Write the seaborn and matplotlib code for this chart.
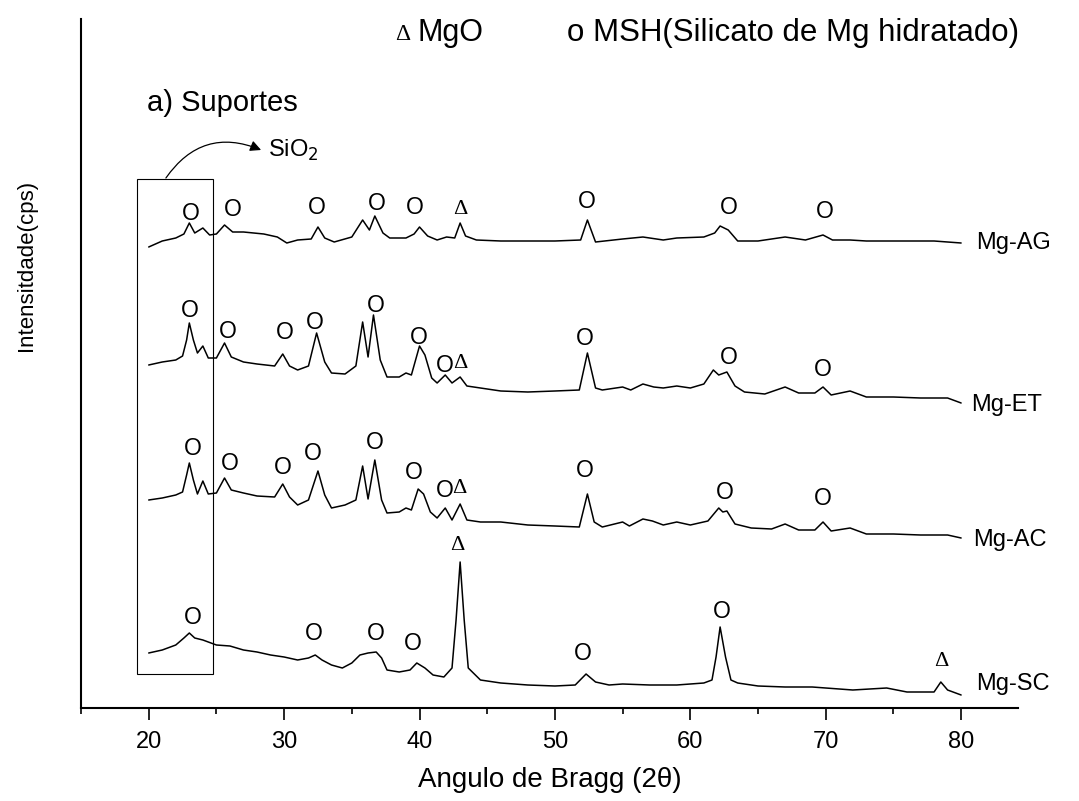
import matplotlib
matplotlib.use("Agg")
import matplotlib.pyplot as plt
from matplotlib.patches import Rectangle
from matplotlib.ticker import MultipleLocator
import numpy as np
import pandas as pd
import seaborn as sns

# ---- diffraction patterns (2-theta, intensity above each trace's own offset) ----
sc_2theta = [20.0, 21.0, 22.0, 22.6, 23.0, 23.4, 24.0, 25.0, 26.0, 27.0, 28.0, 29.0, 30.0,
             31.0, 31.8, 32.3, 32.8, 33.5, 34.3, 35.0, 35.6, 36.2, 36.8, 37.2, 37.6, 38.5,
             39.3, 39.8, 40.4, 41.0, 41.8, 42.4, 42.7, 43.0, 43.3, 43.6, 44.5, 46.0, 48.0,
             50.0, 51.5, 52.3, 53.0, 54.0, 55.0, 57.0, 59.0, 61.0, 61.6, 61.9, 62.2, 62.6,
             63.0, 63.5, 65.0, 67.0, 69.0, 70.0, 72.0, 74.5, 76.0, 78.0, 78.5, 79.0, 80.0]
sc_int = [55, 58, 63, 70, 75, 70, 68, 63, 62, 58, 56, 53, 51,
          48, 50, 53, 48, 43, 40, 45, 53, 55, 56, 50, 38, 36,
          38, 45, 40, 33, 31, 40, 88, 146, 88, 40, 28, 25, 23,
          22, 23, 34, 26, 23, 24, 23, 23, 25, 28, 51, 81, 51,
          28, 25, 22, 21, 21, 20, 18, 20, 16, 16, 26, 18, 13]

ac_2theta = [20.0, 21.0, 22.0, 22.5, 22.8, 23.0, 23.3, 23.6, 24.0, 24.4, 25.0, 25.6, 26.1,
             27.0, 28.0, 29.3, 29.9, 30.4, 31.0, 31.8, 32.5, 33.0, 33.5, 34.5, 35.3, 35.8,
             36.2, 36.7, 37.2, 37.6, 38.5, 39.0, 39.4, 39.9, 40.3, 40.8, 41.3, 41.9, 42.4,
             43.0, 43.5, 44.5, 46.0, 48.0, 50.0, 51.8, 52.4, 52.9, 53.5, 55.0, 55.5, 56.5,
             57.2, 58.0, 59.0, 60.0, 61.3, 62.1, 62.4, 62.7, 63.3, 64.5, 66.0, 67.0, 68.0,
             69.2, 69.8, 70.4, 71.8, 73.0, 75.0, 77.0, 79.0, 80.0]
ac_int = [48, 50, 53, 56, 73, 85, 68, 54, 67, 54, 55, 70, 58,
          55, 52, 51, 64, 51, 43, 48, 77, 53, 40, 43, 48, 82,
          49, 88, 48, 35, 36, 40, 38, 59, 54, 36, 30, 40, 28,
          44, 28, 26, 26, 23, 22, 21, 54, 26, 21, 26, 22, 29,
          27, 23, 26, 23, 27, 40, 36, 37, 24, 20, 19, 24, 18,
          18, 26, 17, 20, 14, 14, 13, 13, 10]

et_2theta = [20.0, 21.0, 22.0, 22.5, 22.8, 23.0, 23.3, 23.6, 24.0, 24.4, 25.0, 25.6, 26.1,
             27.0, 28.0, 29.3, 29.9, 30.4, 31.0, 31.8, 32.4, 33.0, 33.5, 34.5, 35.3, 35.8,
             36.2, 36.6, 37.1, 37.6, 38.5, 39.0, 39.4, 40.0, 40.4, 40.9, 41.3, 41.9, 42.4,
             43.0, 43.5, 44.5, 46.0, 48.0, 50.0, 51.8, 52.4, 53.0, 53.5, 55.0, 55.6, 56.5,
             57.3, 58.0, 59.0, 60.0, 61.0, 61.7, 62.1, 62.7, 63.3, 64.0, 65.5, 67.0, 68.0,
             69.2, 69.8, 70.4, 71.8, 73.0, 75.0, 77.0, 79.0, 80.0]
et_int = [43, 46, 48, 52, 68, 85, 68, 55, 62, 50, 50, 65, 51,
          46, 44, 42, 54, 42, 38, 42, 75, 46, 35, 34, 42, 86,
          51, 93, 48, 31, 31, 35, 33, 62, 53, 30, 25, 33, 25,
          31, 22, 20, 17, 16, 17, 18, 55, 20, 18, 21, 18, 24,
          21, 20, 22, 20, 24, 38, 33, 36, 22, 16, 14, 21, 15,
          15, 21, 13, 17, 11, 11, 10, 10, 5]

ag_2theta = [20.0, 21.0, 22.0, 22.6, 23.0, 23.4, 24.0, 24.5, 25.0, 25.6, 26.2, 27.0, 28.5,
             29.5, 30.2, 31.0, 32.0, 32.5, 33.0, 33.7, 35.0, 35.8, 36.3, 36.7, 37.3, 37.8,
             39.0, 39.6, 40.0, 40.6, 41.3, 42.0, 42.6, 43.0, 43.4, 44.2, 46.0, 48.0, 50.0,
             51.9, 52.4, 53.0, 55.0, 56.5, 58.0, 59.0, 61.0, 61.8, 62.2, 62.8, 63.5, 65.0,
             67.0, 68.5, 69.8, 70.5, 71.8, 73.0, 76.0, 78.0, 80.0]
ag_int = [21, 27, 30, 34, 45, 35, 40, 33, 34, 43, 36, 36, 34,
          31, 25, 28, 29, 41, 30, 26, 31, 48, 38, 52, 35, 30,
          30, 34, 41, 32, 28, 31, 30, 45, 32, 28, 27, 27, 27,
          28, 48, 26, 29, 31, 28, 30, 31, 35, 42, 38, 27, 27,
          31, 28, 33, 28, 28, 27, 27, 27, 25]

samples = ["Mg-SC", "Mg-AC", "Mg-ET", "Mg-AG"]
offsets = [0, 160, 300, 440]

# ---- phase markers: (2-theta, height in plot units, symbol) ----
MSH, MGO = "O", "\u0394"
markers_sc = [(23.27, 91, MSH), (32.2, 75, MSH), (36.77, 74, MSH), (39.5, 64, MSH),
              (42.82, 162, MGO), (52.05, 55, MSH), (62.3, 96, MSH), (78.54, 46, MGO)]
markers_ac = [(23.27, 260, MSH), (26.0, 245, MSH), (29.91, 241, MSH), (32.12, 255, MSH),
              (36.7, 266, MSH), (39.58, 236, MSH), (41.86, 218, MSH), (42.97, 220, MGO),
              (52.2, 238, MSH), (62.53, 216, MSH), (69.76, 210, MSH)]
markers_et = [(23.04, 398, MSH), (25.85, 377, MSH), (30.06, 376, MSH), (32.27, 386, MSH),
              (36.77, 403, MSH), (39.94, 371, MSH), (41.86, 343, MSH), (43.04, 345, MGO),
              (52.2, 370, MSH), (62.82, 351, MSH), (69.76, 339, MSH)]
markers_ag = [(23.12, 495, MSH), (26.22, 499, MSH), (32.42, 501, MSH), (36.85, 505, MSH),
              (39.65, 500, MSH), (43.04, 499, MGO), (52.34, 507, MSH), (62.82, 501, MSH),
              (69.91, 496, MSH)]

xticks = [20, 30, 40, 50, 60, 70, 80]

# ---- long table for seaborn ----
frames = []
for name, off, tt, inten in zip(samples, offsets,
                                [sc_2theta, ac_2theta, et_2theta, ag_2theta],
                                [sc_int, ac_int, et_int, ag_int]):
    frames.append(pd.DataFrame({"two_theta": tt,
                                "y": np.asarray(inten, float) + off,
                                "sample": name}))
df = pd.concat(frames, ignore_index=True)

sns.set_theme(style="white")
plt.rcParams["font.family"] = ["Liberation Sans", "DejaVu Sans"]

W, H = 1079, 801
fig = plt.figure(figsize=(W / 100, H / 100), dpi=100)
ax = fig.add_axes([81 / W, 1 - 708 / H, (1018 - 81) / W, (708 - 19) / H])

sns.lineplot(data=df, x="two_theta", y="y", units="sample", estimator=None,
             color="black", linewidth=1.1, sort=False, ax=ax)

ax.set_xlim(15, 84.2)
ax.set_ylim(0, 689)
ax.set_xticks(xticks)
ax.xaxis.set_minor_locator(MultipleLocator(5))
ax.set_yticks([])
for side in ("top", "right"):
    ax.spines[side].set_visible(False)
for side in ("left", "bottom"):
    ax.spines[side].set_color("black")
    ax.spines[side].set_linewidth(1.5)
ax.tick_params(axis="x", which="major", direction="out", length=8.5, width=1.2,
               color="black", labelcolor="black", labelsize=17, pad=8, bottom=True)
ax.tick_params(axis="x", which="minor", direction="out", length=4.3, width=1.2,
               color="black", bottom=True)
ax.set_xlabel("Angulo de Bragg (2\u03b8)", fontsize=20, labelpad=10, color="black")
ax.set_ylabel("Intensitdade(cps)", fontsize=16, color="black")
ax.yaxis.set_label_coords(-0.047, 0.643)

# phase markers above peaks
for mlist in (markers_sc, markers_ac, markers_et, markers_ag):
    for x, y, sym in mlist:
        if sym == MGO:
            ax.text(x, y, sym, ha="center", va="center", fontsize=16,
                    family=["Liberation Serif", "DejaVu Serif"], color="black")
        else:
            ax.text(x, y, sym, ha="center", va="center", fontsize=16.5, color="black")

# sample names at the right of each trace
label_pos = {"Mg-AG": (81.1, 465), "Mg-ET": (80.76, 303),
             "Mg-AC": (80.9, 168), "Mg-SC": (81.1, 24)}
for name in samples:
    x, y = label_pos[name]
    ax.text(x, y, name, ha="left", va="center", fontsize=17, color="black", clip_on=False)

# SiO2 region box and callout
ax.add_patch(Rectangle((19.13, 34), 24.74 - 19.13, 529 - 34, fill=False,
                       edgecolor="black", linewidth=0.8))
ax.annotate("", xy=(28.3, 558), xytext=(21.27, 530),
            arrowprops=dict(arrowstyle="-|>", color="black", lw=0.9,
                            connectionstyle="arc3,rad=-0.4", mutation_scale=16,
                            shrinkA=0, shrinkB=0))
ax.text(28.8, 558, "SiO$_2$", ha="left", va="center", fontsize=17, color="black")

ax.text(147 / W, 1 - 103 / H, "a) Suportes", transform=fig.transFigure,
        ha="left", va="center", fontsize=21, color="black")

# phase key
fig.text(403 / W, 1 - 35 / H, "\u0394", ha="center", va="center", fontsize=17,
         family=["Liberation Serif", "DejaVu Serif"], color="black")
fig.text(418 / W, 1 - 33 / H, "MgO", ha="left", va="center", fontsize=22, color="black")
fig.text(567 / W, 1 - 33 / H, "o MSH(Silicato de Mg hidratado)", ha="left",
         va="center", fontsize=22.5, color="black")

fig.savefig("out.png", dpi=100, facecolor="white")
